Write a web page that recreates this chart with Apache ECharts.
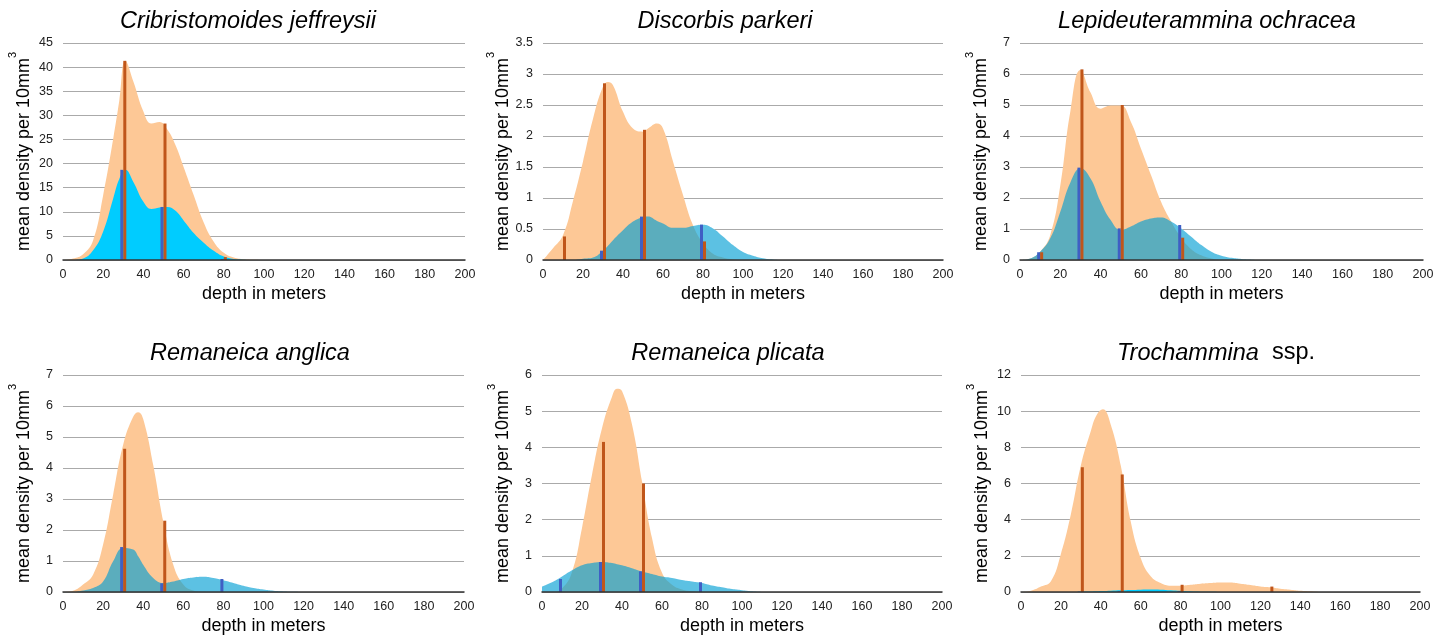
<!DOCTYPE html>
<html><head><meta charset="utf-8">
<script src="https://cdn.jsdelivr.net/npm/echarts@6/dist/echarts.min.js"></script>
<style>html,body{margin:0;padding:0;background:#fff}#c{width:1450px;height:641px}</style>
</head><body><div id="c"></div>
<script>
const titles = ['Cribristomoides jeffreysii','Discorbis parkeri','Lepideuterammina ochracea','Remaneica anglica','Remaneica plicata','{i|Trochammina}  {n|ssp.}'];
const yMax  = [45, 3.5, 7, 7, 6, 12];
const yStep = [5, 0.5, 1, 1, 1, 2];
const xTickMax = 200, xTickStep = 20;

// depths (m) at which the density curves were read, per panel
const depths1 = [0,5,10,15,20,25,28,31,35,40,44,48,52,56,60,65,70,75,80,85,90,95,100];
const depths2 = [0,5,10,15,20,25,30,32.5,35,40,45,50,52.5,57,60,65,70,75,80,85,90,95,100,105,110,115,120];
const depths3 = [0,5,10,15,20,25,30,35,40,45,50,55,60,65,70,75,80,85,90,95,100,105,110,115,120];
const depths4 = [0,5,10,15,20,25,30,35,37.5,40,45,50,55,60,65,70,75,80,85,90,95,100,105,110,115,120];
const depths5 = [0,5,10,15,20,25,30,35,37.5,40,45,50,55,60,65,70,75,80,85,90,95,100,105,110];
const depths6 = [0,5,10,15,20,25,30,35,38,41,45,50,55,60,65,70,75,80,85,90,95,100,105,110,115,120,125,130,135,140,145,150];

// density curves (orange / blue)
const orange1 = [0,0.3,1.2,4.1,13.5,25.2,33,41.3,37,30.8,28.3,28.6,27,23.8,19.3,13.5,7.8,3.8,1.5,0.5,0.15,0.05,0];
const blue1   = [0,0,0.3,2,5.9,12.8,16.8,18.7,16.2,12.1,10.6,10.9,11.0,10.2,8.2,5.6,3.6,1.9,0.7,0.2,0.05,0,0];
const orange2 = [0,0.19,0.4,0.95,1.59,2.28,2.8,2.87,2.82,2.39,2.12,2.07,2.12,2.2,2.12,1.59,1.05,0.56,0.27,0.1,0.04,0.01,0,0,0,0,0];
const blue2   = [0,0,0,0,0.02,0.04,0.15,0.23,0.32,0.48,0.62,0.69,0.7,0.63,0.59,0.52,0.52,0.55,0.57,0.51,0.38,0.24,0.13,0.07,0.03,0.01,0];
const orange3 = [0,0.05,0.27,0.8,2.4,4.8,6.13,5.4,4.88,4.98,4.98,4.46,3.6,2.74,1.88,1.24,0.72,0.35,0.15,0.05,0,0,0,0,0];
const blue3   = [0,0.05,0.27,0.7,1.56,2.5,2.96,2.63,1.88,1.29,0.97,1.08,1.24,1.34,1.37,1.24,1.02,0.75,0.48,0.27,0.14,0.07,0.03,0.01,0];
const orange4 = [0,0.04,0.24,0.56,1.53,3.14,4.75,5.65,5.8,5.58,4.1,2.28,0.88,0.24,0.05,0.01,0,0,0,0,0,0,0,0,0,0];
const blue4   = [0,0,0.05,0.13,0.34,0.99,1.42,1.37,1.15,0.88,0.45,0.29,0.34,0.42,0.47,0.49,0.45,0.38,0.29,0.2,0.13,0.08,0.04,0.02,0.01,0];
const orange5 = [0,0,0.1,0.55,1.77,3.24,4.53,5.4,5.62,5.56,4.63,3.06,1.49,0.53,0.2,0.07,0.02,0,0,0,0,0,0,0];
const blue5   = [0.15,0.27,0.43,0.6,0.74,0.8,0.83,0.8,0.77,0.74,0.66,0.57,0.5,0.43,0.39,0.33,0.29,0.25,0.18,0.13,0.08,0.05,0.02,0];
const orange6 = [0,0.07,0.3,0.6,2.1,4.3,7.0,8.9,9.8,10.1,9.25,7.0,3.9,1.88,0.87,0.5,0.35,0.35,0.4,0.46,0.5,0.53,0.52,0.46,0.39,0.31,0.26,0.18,0.13,0.07,0.04,0.01];
const blue6   = [0,0,0,0,0,0,0.02,0.03,0.04,0.05,0.07,0.09,0.11,0.13,0.14,0.13,0.1,0.07,0.04,0.02,0.01,0,0,0,0,0,0,0,0,0,0,0];

// station means (bars)
const orangeBarDepths = [[30,50,80],[10,30,50,80],[10,30,50,80],[30,50],[30,50],[30,50,80,125]];
const orangeBarVals   = [[41.3,28.3,0.6],[0.38,2.85,2.1,0.3],[0.25,6.15,5.0,0.72],[4.62,2.3],[4.15,3.0],[6.9,6.5,0.4,0.3]];
const blueBarDepths   = [[30,50,80],[30,50,80],[10,30,50,80],[30,50,80],[10,30,50,80],[30,50,80]];
const blueBarVals     = [[18.7,11,0.2],[0.15,0.7,0.57],[0.25,2.98,1.02,1.13],[1.45,0.28,0.42],[0.36,0.83,0.57,0.27],[0.02,0.05,0.05]];

const depthSets    = [depths1,depths2,depths3,depths4,depths5,depths6];
const orangeCurves = [orange1,orange2,orange3,orange4,orange5,orange6];
const blueCurves   = [blue1,blue2,blue3,blue4,blue5,blue6];

// layout
const grids = [
  {left:63, width:402, top:43, height:217},
  {left:543, width:400, top:43, height:217},
  {left:1020, width:403, top:43, height:217},
  {left:63, width:401, top:375, height:217},
  {left:542, width:400, top:375, height:217},
  {left:1021, width:399, top:375, height:217}
];
const titlePos = [[248,7],[725,7],[1207,7],[250,339],[728,339],[1216,339]];
const opaqueBlue = [true,false,false,false,false,true];

const FONT = 'Liberation Sans, Arial, sans-serif';
const ORANGE = '#FDC896';
const BLUE_T = 'rgba(0,158,211,0.64)';
const CYAN = '#00CCFF';
const OBAR = '#C0561A';
const BBAR = '#3F5FC4';

const pair = (xs, ys) => xs.map((x,i)=>[x, ys[i]]);

const option = {
  backgroundColor:'#fff',
  animation:false,
  title: titles.map((t,i)=>({
    text:t, left:titlePos[i][0], top:titlePos[i][1], textAlign:'center', padding:0,
    textStyle:{fontFamily:FONT, fontSize:23.5, fontStyle:'italic', fontWeight:'normal', color:'#000', lineHeight:28,
      rich:{i:{fontFamily:FONT,fontSize:23.5,fontStyle:'italic',color:'#000'}, n:{fontFamily:FONT,fontSize:23.5,fontStyle:'normal',color:'#000'}}}
  })),
  grid: grids.map(g=>Object.assign({containLabel:false}, g)),
  xAxis: grids.map((g,i)=>({
    gridIndex:i, type:'value', min:0, max:xTickMax, interval:xTickStep, z:5,
    name:'depth in meters', nameLocation:'middle', nameGap:25,
    nameTextStyle:{fontFamily:FONT, fontSize:18, color:'#000'},
    axisLine:{show:true, onZero:false, lineStyle:{color:'#333', width:1.5}},
    axisTick:{show:false},
    axisLabel:{fontFamily:FONT, fontSize:12.5, color:'#222', margin:8},
    splitLine:{show:false}
  })),
  yAxis: grids.map((g,i)=>({
    gridIndex:i, type:'value', min:0, max:yMax[i], interval:yStep[i],
    name:'{a|mean density per 10mm}{s|3}', nameLocation:'middle', nameGap:30,
    nameTextStyle:{fontFamily:FONT, fontSize:18, color:'#000',
      rich:{a:{fontFamily:FONT,fontSize:18,color:'#000',lineHeight:26,verticalAlign:'bottom'},
            s:{fontFamily:FONT,fontSize:11,color:'#000',lineHeight:12,verticalAlign:'top'}}},
    axisLine:{show:false}, axisTick:{show:false},
    axisLabel:{fontFamily:FONT, fontSize:12.5, color:'#222', margin:10},
    splitLine:{show:true, lineStyle:{color:'#AAAAAA', width:1.2}}
  })),
  series: []
};

grids.forEach((g,i)=>{
  const common = {xAxisIndex:i, yAxisIndex:i, type:'line', smooth:0.45, showSymbol:false, symbol:'none',
                  lineStyle:{width:0, opacity:0}, silent:true};
  const xs = depthSets[i];
  if (!opaqueBlue[i]) {
    option.series.push(Object.assign({}, common, {z:1, data:pair(xs, blueCurves[i]), areaStyle:{color:'#fff', opacity:1}}));
  }
  option.series.push(Object.assign({}, common, {z:2, data:pair(xs, orangeCurves[i]), areaStyle:{color:ORANGE, opacity:1}}));
  option.series.push(Object.assign({}, common, {z:3, data:pair(xs, blueCurves[i]),
      areaStyle:{color: opaqueBlue[i] ? CYAN : BLUE_T, opacity:1}}));
  option.series.push({type:'bar', xAxisIndex:i, yAxisIndex:i, z:4, barWidth:3, barGap:'0%',
      itemStyle:{color:BBAR}, data:pair(blueBarDepths[i], blueBarVals[i])});
  option.series.push({type:'bar', xAxisIndex:i, yAxisIndex:i, z:4, barWidth:3, barGap:'0%',
      itemStyle:{color:OBAR}, data:pair(orangeBarDepths[i], orangeBarVals[i])});
});

const chart = echarts.init(document.getElementById('c'), null, {renderer:'canvas'});
chart.setOption(option);
</script>
</body></html>
